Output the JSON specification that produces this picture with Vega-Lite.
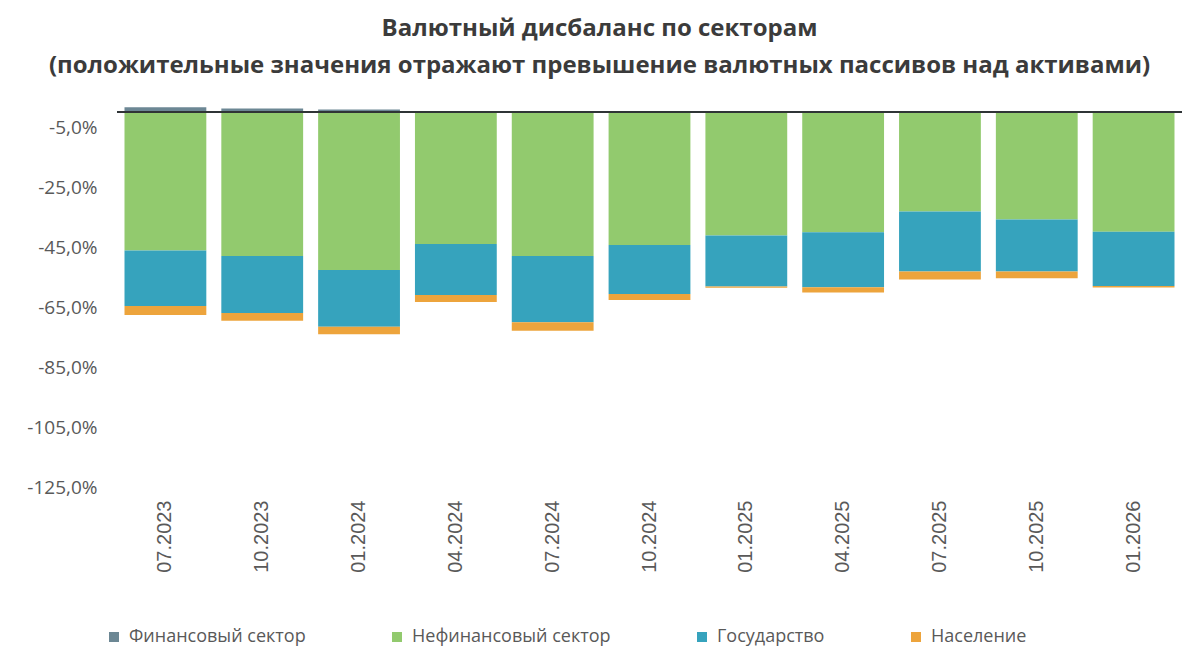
{
  "$schema": "https://vega.github.io/schema/vega-lite/v6.json",
  "autosize": {"type": "none"},
  "padding": {"left": 117, "top": 97, "right": 18, "bottom": 168},
  "width": 1065,
  "height": 390,
  "background": "white",
  "title": {
    "text": ["Валютный дисбаланс по секторам", "(положительные значения отражают превышение валютных пассивов над активами)"],
    "font": "Open Sans",
    "fontSize": 24,
    "fontWeight": "bold",
    "color": "#3b3b3b",
    "anchor": "middle",
    "frame": "group",
    "dx": -50,
    "lineHeight": 37,
    "offset": 19
  },
  "data": {
    "values": [
      {"date": "07.2023", "sector": "Финансовый сектор", "o": 1, "v": 1.6},
      {"date": "07.2023", "sector": "Нефинансовый сектор", "o": 2, "v": -46.2},
      {"date": "07.2023", "sector": "Государство", "o": 3, "v": -18.5},
      {"date": "07.2023", "sector": "Население", "o": 4, "v": -3.0},
      {"date": "10.2023", "sector": "Финансовый сектор", "o": 1, "v": 1.2},
      {"date": "10.2023", "sector": "Нефинансовый сектор", "o": 2, "v": -48.0},
      {"date": "10.2023", "sector": "Государство", "o": 3, "v": -19.0},
      {"date": "10.2023", "sector": "Население", "o": 4, "v": -2.6},
      {"date": "01.2024", "sector": "Финансовый сектор", "o": 1, "v": 0.8},
      {"date": "01.2024", "sector": "Нефинансовый сектор", "o": 2, "v": -52.7},
      {"date": "01.2024", "sector": "Государство", "o": 3, "v": -18.9},
      {"date": "01.2024", "sector": "Население", "o": 4, "v": -2.5},
      {"date": "04.2024", "sector": "Финансовый сектор", "o": 1, "v": 0},
      {"date": "04.2024", "sector": "Нефинансовый сектор", "o": 2, "v": -44.0},
      {"date": "04.2024", "sector": "Государство", "o": 3, "v": -17.0},
      {"date": "04.2024", "sector": "Население", "o": 4, "v": -2.3},
      {"date": "07.2024", "sector": "Финансовый сектор", "o": 1, "v": 0},
      {"date": "07.2024", "sector": "Нефинансовый сектор", "o": 2, "v": -48.0},
      {"date": "07.2024", "sector": "Государство", "o": 3, "v": -22.1},
      {"date": "07.2024", "sector": "Население", "o": 4, "v": -2.8},
      {"date": "10.2024", "sector": "Финансовый сектор", "o": 1, "v": 0},
      {"date": "10.2024", "sector": "Нефинансовый сектор", "o": 2, "v": -44.3},
      {"date": "10.2024", "sector": "Государство", "o": 3, "v": -16.4},
      {"date": "10.2024", "sector": "Население", "o": 4, "v": -2.0},
      {"date": "01.2025", "sector": "Финансовый сектор", "o": 1, "v": 0},
      {"date": "01.2025", "sector": "Нефинансовый сектор", "o": 2, "v": -41.2},
      {"date": "01.2025", "sector": "Государство", "o": 3, "v": -17.0},
      {"date": "01.2025", "sector": "Население", "o": 4, "v": -0.4},
      {"date": "04.2025", "sector": "Финансовый сектор", "o": 1, "v": 0},
      {"date": "04.2025", "sector": "Нефинансовый сектор", "o": 2, "v": -40.1},
      {"date": "04.2025", "sector": "Государство", "o": 3, "v": -18.3},
      {"date": "04.2025", "sector": "Население", "o": 4, "v": -1.8},
      {"date": "07.2025", "sector": "Финансовый сектор", "o": 1, "v": 0},
      {"date": "07.2025", "sector": "Нефинансовый сектор", "o": 2, "v": -33.2},
      {"date": "07.2025", "sector": "Государство", "o": 3, "v": -20.0},
      {"date": "07.2025", "sector": "Население", "o": 4, "v": -2.6},
      {"date": "10.2025", "sector": "Финансовый сектор", "o": 1, "v": 0},
      {"date": "10.2025", "sector": "Нефинансовый сектор", "o": 2, "v": -35.8},
      {"date": "10.2025", "sector": "Государство", "o": 3, "v": -17.4},
      {"date": "10.2025", "sector": "Население", "o": 4, "v": -2.2},
      {"date": "01.2026", "sector": "Финансовый сектор", "o": 1, "v": 0},
      {"date": "01.2026", "sector": "Нефинансовый сектор", "o": 2, "v": -39.9},
      {"date": "01.2026", "sector": "Государство", "o": 3, "v": -18.1},
      {"date": "01.2026", "sector": "Население", "o": 4, "v": -0.5}
    ]
  },
  "config": {"view": {"stroke": null}},
  "layer": [
    {
      "mark": {"type": "bar"},
      "encoding": {
        "x": {
          "field": "date",
          "type": "ordinal",
          "sort": null,
          "scale": {"paddingInner": 0.155, "paddingOuter": 0.0775},
          "axis": {
            "title": null,
            "labelAngle": -90,
            "labelFont": "Liberation Sans",
            "labelFontSize": 20,
            "labelColor": "#595959",
            "labelPadding": 13,
            "ticks": false,
            "domain": false
          }
        },
        "y": {
          "field": "v",
          "type": "quantitative",
          "stack": "zero",
          "scale": {"domain": [-125, 5], "nice": false},
          "axis": {
            "title": null,
            "values": [-5, -25, -45, -65, -85, -105, -125],
            "labelExpr": "(datum.value < 0 ? '-' : '') + replace(format(abs(datum.value), '.1f'), '.', ',') + '%'",
            "labelFont": "Open Sans",
            "labelFontSize": 19,
            "labelColor": "#595959",
            "labelPadding": 20,
            "ticks": false,
            "domain": false,
            "grid": false
          }
        },
        "color": {
          "field": "sector",
          "type": "nominal",
          "scale": {
            "domain": ["Финансовый сектор", "Нефинансовый сектор", "Государство", "Население"],
            "range": ["#6c8794", "#92ca6e", "#36a3bd", "#eda43c"]
          },
          "legend": {
            "title": null,
            "orient": "none",
            "direction": "horizontal",
            "legendX": -12,
            "legendY": 531,
            "symbolType": "square",
            "symbolSize": 100,
            "symbolStrokeWidth": 0,
            "labelFont": "Open Sans",
            "labelFontSize": 18,
            "labelColor": "#595959",
            "labelOffset": 6,
            "labelLimit": 0,
            "columnPadding": 82
          }
        },
        "order": {"field": "o", "type": "quantitative"}
      }
    },
    {
      "mark": {"type": "rule", "color": "#2f3436", "strokeWidth": 2},
      "encoding": {"y": {"datum": 0}}
    }
  ]
}
